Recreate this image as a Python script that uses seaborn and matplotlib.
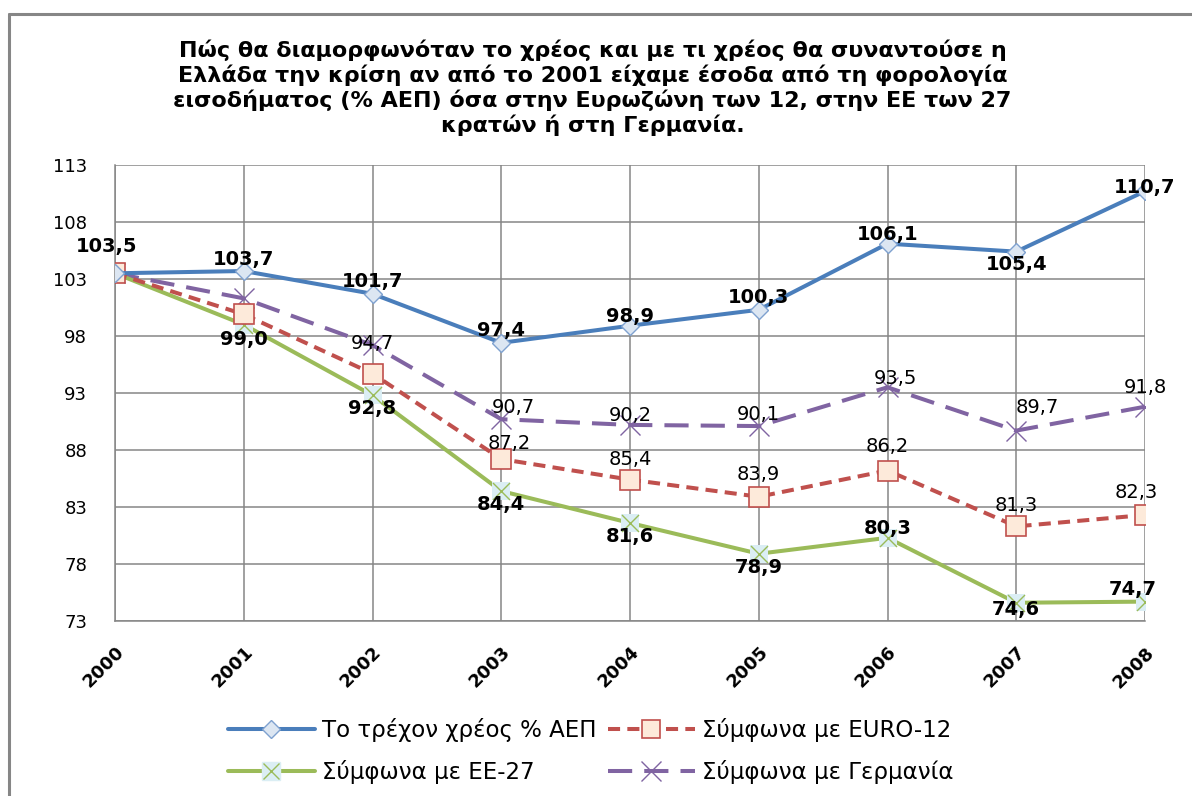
import matplotlib
matplotlib.use("Agg")
import matplotlib.pyplot as plt
from matplotlib.lines import Line2D
from matplotlib.legend_handler import HandlerTuple
import seaborn as sns

# ---------------- data ----------------
years = [2000, 2001, 2002, 2003, 2004, 2005, 2006, 2007, 2008]
current_debt = [103.5, 103.7, 101.7, 97.4, 98.9, 100.3, 106.1, 105.4, 110.7]
euro12 = [103.5, 99.9, 94.7, 87.2, 85.4, 83.9, 86.2, 81.3, 82.3]
eu27 = [103.5, 99.0, 92.8, 84.4, 81.6, 78.9, 80.3, 74.6, 74.7]
germany = [103.5, 101.3, 97.2, 90.7, 90.2, 90.1, 93.5, 89.7, 91.8]
series_names = ["Το τρέχον χρέος % ΑΕΠ", "Σύμφωνα με EURO-12",
                "Σύμφωνα με ΕΕ-27", "Σύμφωνα με Γερμανία"]
yticks = [73, 78, 83, 88, 93, 98, 103, 108, 113]
title = ("Πώς θα διαμορφωνόταν το χρέος και με τι χρέος θα συναντούσε η\n"
         "Ελλάδα την κρίση αν από το 2001 είχαμε έσοδα από τη φορολογία\n"
         "εισοδήματος (% ΑΕΠ) όσα στην Ευρωζώνη των 12, στην ΕΕ των 27\n"
         "κρατών ή στη Γερμανία.")

# ---------------- label placement (style, offsets in points; None = no label) ----
blue_off = [(-6, 19), (0, 8), (0, 9), (0, 9), (0, 6.5), (0, 9), (0, 6.5), (0, -9), (0, 3)]
red_off = [None, None, (0, 22), (6, 11.5), (0, 14.5), (0, 16), (0, 17), (0, 15), (-6, 16.5)]
green_off = [None, (0, -11), (0, -9.5), (0, -10), (0, -10), (0, -10), (0, 7), (0, -5), (-9, 8.5)]
purple_off = [None, None, None, (9, 8.5), (0, 7), (0, 8), (6, 6.5), (15, 17), (0, 13.5)]

BLUE, RED, GREEN, PURPLE = "#4A7EBB", "#C0504D", "#9BBB59", "#8064A2"
GRID = "#868686"

sns.set_theme(style="white")
plt.rcParams["font.family"] = ["DejaVu Sans"]
plt.rcParams["text.color"] = "black"

fig = plt.figure(figsize=(11.92, 7.96), dpi=100)
ax = fig.add_axes([115 / 1192, 1 - 621 / 796, (1145 - 115) / 1192, (621 - 165) / 796])

lw = 2.9
sns.lineplot(x=years, y=current_debt, ax=ax, color=BLUE, lw=lw, marker="D",
             markersize=9, markerfacecolor="#DCE6F2", markeredgecolor="#7FA1CF",
             markeredgewidth=1, zorder=6, legend=False)
sns.lineplot(x=years, y=euro12, ax=ax, color=RED, lw=lw, linestyle=(0, (3, 1.8)),
             marker="s", markersize=14, markerfacecolor="#FDEADA", markeredgecolor=RED,
             markeredgewidth=1.2, zorder=5, legend=False)
sns.lineplot(x=years, y=eu27, ax=ax, color=GREEN, lw=lw, marker="s", markersize=13,
             markerfacecolor="#DBEEF4", markeredgecolor="#DBEEF4", markeredgewidth=0,
             zorder=4, legend=False)
sns.scatterplot(x=years, y=eu27, ax=ax, marker="x", s=150, color=GREEN,
                linewidth=1, zorder=4.5, legend=False)
sns.lineplot(x=years, y=germany, ax=ax, color=PURPLE, lw=lw, linestyle=(0, (6, 3)),
             marker="x", markersize=14, markeredgecolor=PURPLE, markeredgewidth=1,
             zorder=3, legend=False)

ax.set_xlim(years[0], years[-1])
ax.set_ylim(yticks[0], yticks[-1])
ax.set_xticks(years)
ax.set_yticks(yticks)
ax.set_xticklabels([str(y) for y in years], rotation=45, ha="right", va="top",
                   rotation_mode="anchor", fontsize=13, fontweight="bold")
ax.set_yticklabels([str(v) for v in yticks], fontsize=13)
ax.grid(True, color=GRID, lw=1.1)
ax.set_axisbelow(True)
for s in ["top", "right"]:
    ax.spines[s].set_visible(False)
for s in ["left", "bottom"]:
    ax.spines[s].set_color(GRID)
    ax.spines[s].set_linewidth(1.1)
ax.tick_params(axis="both", which="both", direction="out", length=6, width=1.1,
               color=GRID, labelcolor="black")
ax.tick_params(axis="x", pad=10)
ax.tick_params(axis="y", pad=14)
ax.set_xlabel("")
ax.set_ylabel("")


def fmt(v):
    return f"{v:.1f}".replace(".", ",")


def put_labels(vals, offs, bold):
    for x, v, o in zip(years, vals, offs):
        if o is None:
            continue
        ax.annotate(fmt(v), (x, v), xytext=o, textcoords="offset points",
                    ha="center", va="center", fontsize=14,
                    fontweight="bold" if bold else "normal", color="black",
                    zorder=10, annotation_clip=False)


put_labels(current_debt, blue_off, True)
put_labels(euro12, red_off, False)
put_labels(eu27, green_off, True)
put_labels(germany, purple_off, False)

# title
fig.text(0.497, 1 - 88 / 796, title, ha="center", va="center", fontsize=16,
         fontweight="bold", family=["DejaVu Sans"], linespacing=1.2, color="black")

# legend
h_blue = Line2D([], [], color=BLUE, lw=lw, marker="D", markersize=9,
                markerfacecolor="#DCE6F2", markeredgecolor="#7FA1CF", markeredgewidth=1)
h_red = Line2D([], [], color=RED, lw=lw, linestyle=(0, (3, 1.8)), marker="s",
               markersize=13, markerfacecolor="#FDEADA", markeredgecolor=RED,
               markeredgewidth=1.2)
h_green_a = Line2D([], [], color=GREEN, lw=lw, marker="s", markersize=13,
                   markerfacecolor="#DBEEF4", markeredgecolor="#DBEEF4")
h_green_b = Line2D([], [], color=GREEN, lw=0, marker="x", markersize=12,
                   markeredgewidth=1)
h_purple = Line2D([], [], color=PURPLE, lw=lw, linestyle=(0, (6, 3)), marker="x",
                  markersize=14, markeredgewidth=1)
handles = [h_blue, (h_green_a, h_green_b), h_red, h_purple]
labels = [series_names[0], series_names[2], series_names[1], series_names[3]]
leg = fig.legend(handles, labels, loc="center left",
                 bbox_to_anchor=(207 / 1192, 1 - 751 / 796),
                 ncol=2, frameon=False, handlelength=3.8, handletextpad=0.3,
                 columnspacing=0.5, labelspacing=0.8,
                 handler_map={tuple: HandlerTuple(ndivide=1)},
                 prop={"family": ["DejaVu Sans"], "size": 16.5})
for t in leg.get_texts():
    t.set_color("black")

# outer frame lines (top and left)
fig.add_artist(Line2D([8.5 / 1192, 8.5 / 1192], [0, 1 - 14 / 796], color=GRID, lw=2.2))
fig.add_artist(Line2D([8.5 / 1192, 1], [1 - 14 / 796, 1 - 14 / 796], color=GRID, lw=2.2))

fig.savefig("out.png", dpi=100)
